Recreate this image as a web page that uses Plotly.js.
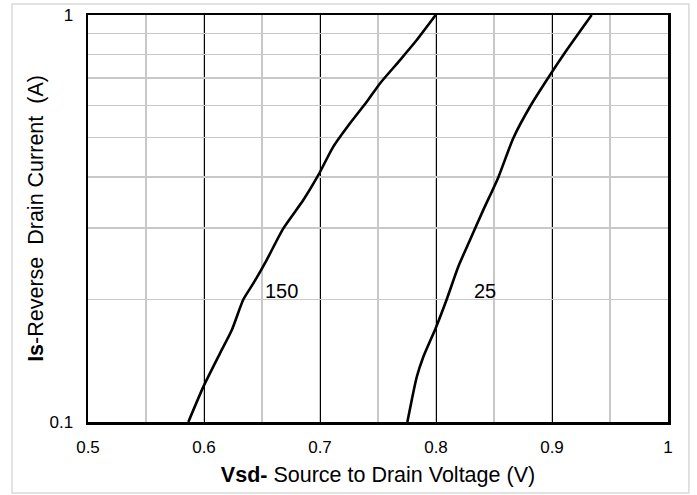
<!DOCTYPE html>
<html>
<head>
<meta charset="utf-8">
<script src="https://cdn.plot.ly/plotly-3.0.1.min.js"></script>
<style>html,body{margin:0;padding:0;background:#fff;}#chart{width:697px;height:495px;}</style>
</head>
<body>
<div id="chart"></div>
<script>
// Curve at 150 °C
const vsd150 = [0.5865, 0.5994, 0.6138, 0.6239, 0.6339, 0.6425, 0.654, 0.6684, 0.6856, 0.6985, 0.7115, 0.7259, 0.7403, 0.7517, 0.769, 0.7834, 0.7997];
const is150  = [0.100, 0.122, 0.1475, 0.168, 0.200, 0.219, 0.250, 0.299, 0.351, 0.404, 0.475, 0.542, 0.612, 0.679, 0.775, 0.868, 1.000];
// Curve at 25 °C
const vsd25 = [0.7753, 0.7791, 0.7834, 0.7891, 0.7997, 0.8092, 0.8192, 0.8293, 0.8408, 0.8537, 0.8666, 0.881, 0.8983, 0.9127, 0.9342];
const is25  = [0.100, 0.1133, 0.129, 0.1446, 0.170, 0.200, 0.2408, 0.280, 0.332, 0.399, 0.498, 0.595, 0.712, 0.820, 1.000];
// Curve labels
const curveLabels = ['150', '25'];
const labelX = [0.651, 0.831];
const labelY = [0.21, 0.21];
// Ticks
const xTickVals = [0.5, 0.6, 0.7, 0.8, 0.9, 1.0];
const xTickText = ['0.5', '0.6', '0.7', '0.8', '0.9', '1'];
const yTickVals = [0.1, 0.2, 0.3, 0.4, 0.5, 0.6, 0.7, 0.8, 0.9, 1.0];
const yTickText = ['0.1', '', '', '', '', '', '', '', '', '1'];

const FONT = 'Liberation Sans, Arial, sans-serif';
const NB = '\u00a0';

const traces = [
  {x: vsd150, y: is150, type: 'scatter', mode: 'lines', name: '150',
   line: {color: '#000', width: 2.6, shape: 'spline', smoothing: 0.6}, showlegend: false, hoverinfo: 'x+y'},
  {x: vsd25, y: is25, type: 'scatter', mode: 'lines', name: '25',
   line: {color: '#000', width: 2.6, shape: 'spline', smoothing: 0.6}, showlegend: false, hoverinfo: 'x+y'}
];

const annotations = curveLabels.map((t, i) => ({
  x: labelX[i], y: Math.log10(labelY[i]), xref: 'x', yref: 'y', text: t,
  showarrow: false, xanchor: 'left', yanchor: 'middle',
  font: {family: FONT, size: 20, color: '#000'}
}));

const layout = {
  width: 697, height: 495,
  margin: {l: 88, r: 29, t: 15, b: 73, pad: 0},
  paper_bgcolor: '#fff', plot_bgcolor: '#fff',
  showlegend: false,
  font: {family: FONT, color: '#000'},
  xaxis: {
    range: [0.5, 1.0], tickvals: xTickVals, ticktext: xTickText,
    showgrid: true, gridcolor: '#000', gridwidth: 1,
    minor: {dtick: 0.05, tick0: 0.5, showgrid: true, gridcolor: '#c8c8c8', gridwidth: 1.5, ticks: ''},
    ticks: 'outside', ticklen: 8, tickcolor: 'rgba(0,0,0,0)',
    tickfont: {family: FONT, size: 17, color: '#000'},
    showline: true, mirror: true, linecolor: '#000', linewidth: 2.5,
    zeroline: false,
    title: {text: '<b>Vsd-</b> Source to Drain Voltage (V)', font: {family: FONT, size: 21.5, color: '#000'}, standoff: 11}
  },
  yaxis: {
    type: 'log', range: [-1, 0], tickvals: yTickVals, ticktext: yTickText,
    showgrid: true, gridcolor: '#c8c8c8', gridwidth: 1.5,
    ticks: 'outside', ticklen: 9, tickcolor: 'rgba(0,0,0,0)',
    tickfont: {family: FONT, size: 17, color: '#000'},
    showline: true, mirror: true, linecolor: '#000', linewidth: 2.5,
    zeroline: false,
    title: {text: '<b>Is</b>-Reverse' + NB + ' Drain Current' + NB + ' (A)', font: {family: FONT, size: 21.5, color: '#000'}, standoff: 0}
  },
  annotations: annotations,
  shapes: [
    {type: 'rect', xref: 'paper', yref: 'paper', x0: -0.131, x1: 1.036, y0: -0.1745, y1: 1.027,
     line: {color: '#d9d9d9', width: 1.5}, fillcolor: 'rgba(0,0,0,0)', layer: 'below'}
  ]
};

Plotly.newPlot('chart', traces, layout, {displayModeBar: false, staticPlot: true});
</script>
</body>
</html>
